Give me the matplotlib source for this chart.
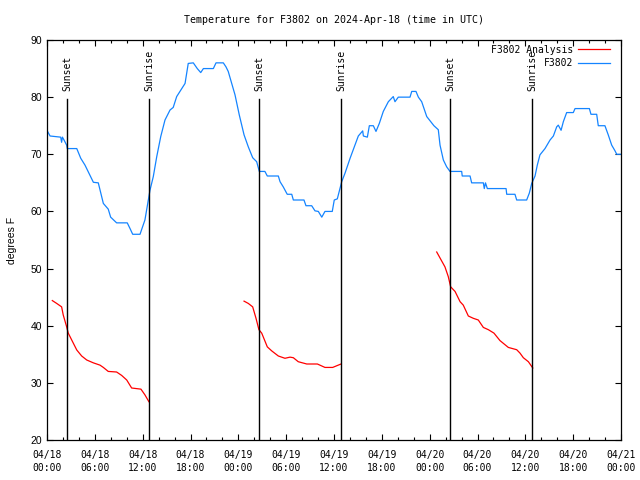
import numpy as np
import matplotlib
matplotlib.use("Agg")
import matplotlib.pyplot as plt
import matplotlib.dates as mdates

# hours since 2024-04-18 00:00 UTC, temperature in F
obs_hours = [0.04, 0.38, 1.72, 1.84, 1.94, 2.13, 2.47, 2.55, 3.73, 4.23, 4.77, 5.81, 6.44, 7.06,
             7.69, 7.99, 8.74, 10.07, 10.41, 10.75, 11.67, 12.29, 12.71, 12.92, 13.33, 13.76,
             14.26, 14.8, 15.43, 15.84, 16.27, 16.9, 17.31, 17.72, 18.35, 18.85, 19.28, 19.61,
             20.86, 21.2, 22.12, 22.45, 22.74, 23.17, 23.58, 24.12, 24.71, 25.25, 25.8, 26.3,
             26.63, 27.34, 27.63, 29.01, 29.23, 29.64, 30.14, 30.7, 30.9, 32.24, 32.49, 33.2,
             33.62, 34.03, 34.46, 34.87, 35.79, 36.04, 36.42, 36.97, 37.38, 38.01, 38.64, 39.05,
             39.6, 39.68, 40.18, 40.43, 40.93, 41.27, 41.68, 42.18, 42.81, 43.44, 43.65, 44.07,
             45.53, 45.75, 46.29, 46.58, 47.0, 47.63, 48.04, 48.54, 49.08, 49.3, 49.71, 50.14,
             50.55, 52.02, 52.09, 53.06, 53.27, 54.73, 54.85, 55.0, 55.23, 57.58, 57.66, 58.7,
             58.92, 60.17, 60.5, 60.8, 61.21, 61.5, 61.84, 62.47, 63.1, 63.51, 63.94, 64.14,
             64.48, 64.76, 65.19, 66.02, 66.23, 68.03, 68.24, 68.95, 69.15, 69.99, 70.4, 70.83,
             71.25, 71.46, 71.96]
obs_temp = [74.1, 73.2, 73, 72.1, 73, 72.5, 71.6, 71, 71, 69.3, 68.1, 65.1, 65, 61.4,
            60.4, 59, 58, 58, 57, 56, 56, 58.5, 62, 63.7, 66.1, 69.6,
            73.1, 76, 77.75, 78.2, 80.1, 81.5, 82.4, 85.9, 86, 85, 84.3, 85,
            85, 86, 86, 85.3, 84.5, 82.4, 80.4, 76.9, 73.4, 71.3, 69.4, 68.7,
            67, 67, 66.2, 66.2, 65.2, 64.3, 63, 63, 62, 62, 61, 61,
            60.1, 60, 59, 60, 60, 62, 62.2, 65.2, 66.7, 69.3, 71.6, 73.2,
            74.1, 73.2, 73, 75, 75, 74, 75.4, 77.5, 79.2, 80.1, 79.2, 80,
            80, 81, 81, 80, 79.2, 76.6, 75.9, 75, 74.3, 71.6, 69, 67.8,
            67, 67, 66.2, 66.2, 65, 65, 64, 65, 64, 64, 63, 63,
            62, 62, 63.2, 64.9, 66.2, 68.1, 69.9, 71, 72.5, 73.2, 74.8, 75.1,
            74.2, 75.7, 77.3, 77.3, 78, 78, 77, 77, 75, 75, 73.4, 71.6,
            70.6, 70, 70]

ana1_hours = [0.66, 1.22, 1.84, 2.04, 2.47, 2.67, 3.1, 3.73, 4.35, 4.98, 5.81, 6.65, 7.06, 7.69,
              8.74, 9.37, 10.0, 10.62, 11.79, 12.29, 12.79]
ana1_temp = [44.4, 43.9, 43.3, 41.9, 39.8, 38.7, 37.5, 35.75, 34.7, 34, 33.5, 33.1, 32.7, 32,
             31.9, 31.3, 30.5, 29.1, 28.9, 27.9, 26.7]
ana2_hours = [24.71, 25.25, 25.8, 26.22, 26.59, 26.93, 27.63, 28.19, 29.01, 29.85, 30.48, 30.9,
              31.52, 32.58, 33.91, 34.87, 35.84, 36.88]
ana2_temp = [44.3, 43.9, 43.3, 41.3, 39.3, 38.7, 36.3, 35.6, 34.7, 34.3, 34.5, 34.4,
             33.7, 33.3, 33.3, 32.7, 32.7, 33.3]
ana3_hours = [48.88, 49.92, 50.34, 50.64, 51.18, 51.81, 52.22, 52.85, 53.47, 54.1, 54.73, 55.36,
              56.07, 56.82, 57.87, 58.92, 59.33, 59.75, 60.38, 60.93]
ana3_temp = [52.9, 50.3, 48.6, 46.8, 46, 44.2, 43.6, 41.7, 41.3, 41, 39.7, 39.3,
             38.7, 37.4, 36.2, 35.8, 35.2, 34.4, 33.7, 32.6]

sunset_hours = [2.55, 26.63, 50.59]
sunrise_hours = [12.83, 36.92, 60.88]

start = np.datetime64("2024-04-18T00:00")


def to_time(hours):
    return start + (np.asarray(hours) * 60).round().astype("timedelta64[m]")


mono = "DejaVu Sans Mono"
sans = "Liberation Sans"

fig = plt.figure(figsize=(6.4, 4.8), dpi=100)
ax = fig.add_axes([47 / 640, 40 / 480, 574 / 640, 400 / 480])

# analysis segments joined with gaps
ana_t = np.concatenate([to_time(ana1_hours), [np.datetime64("NaT")],
                        to_time(ana2_hours), [np.datetime64("NaT")],
                        to_time(ana3_hours)]).astype("datetime64[m]")
ana_v = np.concatenate([ana1_temp, [np.nan], ana2_temp, [np.nan], ana3_temp])
ax.plot(ana_t, ana_v, color="#ff0000", lw=0.9, label="F3802 Analysis")
ax.plot(to_time(obs_hours), obs_temp, color="#1484ff", lw=0.9, label="F3802")

for name, hrs in (("Sunset", sunset_hours), ("Sunrise", sunrise_hours)):
    for t in to_time(hrs):
        ax.axvline(t, ymin=0, ymax=0.853, color="black", lw=1.0)
        ax.text(t, 0.872, name, transform=ax.get_xaxis_transform(), rotation=90,
                ha="center", va="bottom", fontsize=7, family=mono)

ax.set_xlim(np.datetime64("2024-04-18T00:00"), np.datetime64("2024-04-21T00:00"))
ax.set_ylim(20, 90)
ax.set_yticks(range(20, 91, 10))
ax.xaxis.set_major_locator(mdates.HourLocator(byhour=[0, 6, 12, 18]))
ax.xaxis.set_minor_locator(mdates.HourLocator(interval=2))
ax.xaxis.set_major_formatter(mdates.DateFormatter("%m/%d\n%H:%M"))

ax.tick_params(which="both", direction="in", top=True, right=True)
ax.tick_params(which="major", length=4, width=0.8)
ax.tick_params(which="minor", length=2.2, width=0.8)
ax.tick_params(axis="x", pad=7)
for lab in ax.get_xticklabels():
    lab.set_fontfamily(mono)
    lab.set_fontsize(7)
    lab.set_linespacing(1.45)
for lab in ax.get_yticklabels():
    lab.set_fontfamily(sans)
    lab.set_fontsize(7.5)
for s in ax.spines.values():
    s.set_linewidth(0.9)

ax.set_ylabel("degrees F", family=sans, fontsize=7.5, labelpad=10)
ax.set_title("Temperature for F3802 on 2024-Apr-18 (time in UTC)", family=mono, fontsize=7.2, pad=12.5)

leg = ax.legend(loc="upper right", bbox_to_anchor=(0.9876, 0.998), markerfirst=False, frameon=False,
                prop={"family": mono, "size": 7}, handlelength=3.3, handletextpad=0.45,
                labelspacing=0.35, borderaxespad=0)

fig.savefig("out.png", dpi=100)
